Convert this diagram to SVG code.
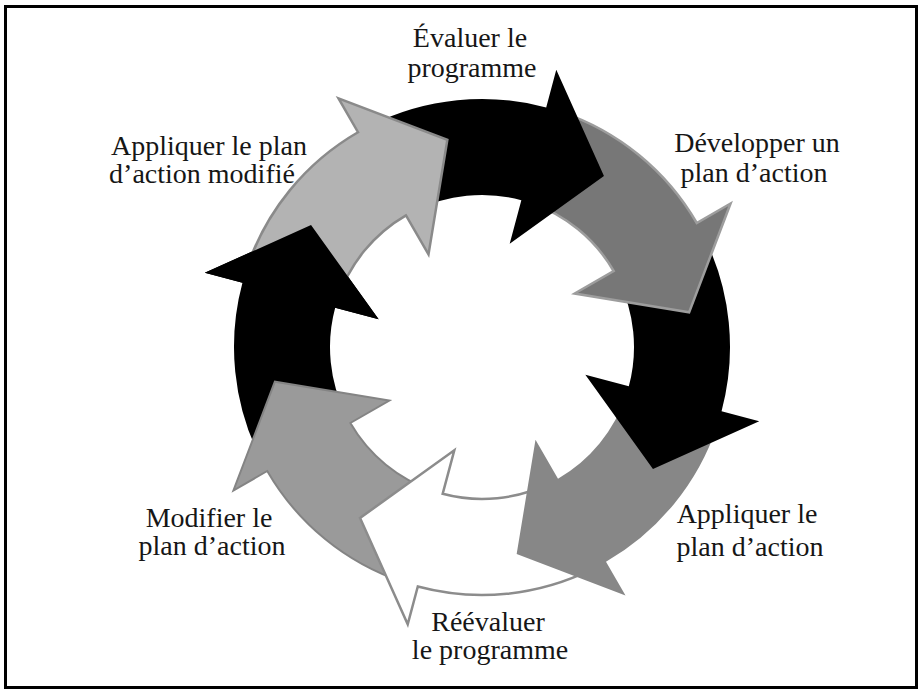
<svg xmlns="http://www.w3.org/2000/svg" width="922" height="694" viewBox="0 0 922 694">
<style>
.lbl{font-family:"Liberation Serif","DejaVu Serif",serif;font-size:28px;fill:#161616;text-anchor:middle}
.blk{fill:#000}
.g0{fill:#b3b3b3;stroke:#8a8a8a;stroke-width:2.5;stroke-linejoin:miter}
.g2{fill:#777;stroke:#9d9d9d;stroke-width:2.5;stroke-linejoin:miter}
.g4{fill:#878787}
.g5{fill:#fff;stroke:#8c8c8c;stroke-width:2.5;stroke-linejoin:miter}
.g6{fill:#9a9a9a;stroke:#848484;stroke-width:2;stroke-linejoin:miter}
</style>
<rect x="0" y="0" width="922" height="694" fill="#fff"/>
<rect x="5.5" y="6.5" width="911" height="681" fill="none" stroke="#000" stroke-width="3"/>
<g id="connectors">
<path id="arrow-left-black" class="blk" d="M260.06,457.66 A248,248 0 0 1 242.45,282.81 L204.78,272.72 L311.03,225.05 L378.65,319.31 L335.18,307.66 A152,152 0 0 0 345.97,414.82 Z"/>
<path id="arrow-left-gray" class="g6" d="M403.31,582.18 A248,248 0 0 1 267.23,471 L233.45,490.5 L274.88,381.66 L389.34,400.5 L350.36,423 A152,152 0 0 0 433.77,491.14 Z"/>
<path id="arrow-bottom-white" class="g5" d="M592.66,568.94 A248,248 0 0 1 417.81,586.55 L407.72,624.22 L360.05,517.97 L454.31,450.35 L442.66,493.82 A152,152 0 0 0 549.82,483.03 Z"/>
<path id="arrow-bottom-right-gray" class="g4" d="M717.18,425.69 A248,248 0 0 1 606,561.77 L625.5,595.55 L516.66,554.12 L535.5,439.66 L558,478.64 A152,152 0 0 0 626.14,395.23 Z"/>
<path id="arrow-right-black" class="blk" d="M703.94,236.34 A248,248 0 0 1 721.55,411.19 L759.22,421.28 L652.97,468.95 L585.35,374.69 L628.82,386.34 A152,152 0 0 0 618.03,279.18 Z"/>
<path id="arrow-right-top-gray" class="g2" d="M560.69,111.82 A248,248 0 0 1 696.77,223 L730.55,203.5 L689.12,312.34 L574.66,293.5 L613.64,271 A152,152 0 0 0 530.23,202.86 Z"/>
<path id="arrow-top-black" class="blk" d="M371.34,125.06 A248,248 0 0 1 546.19,107.45 L556.28,69.78 L603.95,176.03 L509.69,243.65 L521.34,200.18 A152,152 0 0 0 414.18,210.97 Z"/>
<path id="arrow-top-left-lightgray" class="g0" d="M246.82,268.31 A248,248 0 0 1 358,132.23 L338.5,98.45 L447.34,139.88 L428.5,254.34 L406,215.36 A152,152 0 0 0 337.86,298.77 Z"/>
<path id="arrow-left-black-head" class="blk" d="M242.45,282.81 L204.78,272.72 L311.03,225.05 L378.65,319.31 L335.18,307.66 Z"/>
</g>
<g id="label-evaluer">
<text class="lbl" x="470" y="47">Évaluer le</text>
<text class="lbl" x="472" y="77">programme</text>
</g>
<g id="label-developper">
<text class="lbl" x="757" y="152">Développer un</text>
<text class="lbl" x="754" y="182">plan d’action</text>
</g>
<g id="label-appliquer">
<text class="lbl" x="747" y="523">Appliquer le</text>
<text class="lbl" x="750" y="556">plan d’action</text>
</g>
<g id="label-reevaluer">
<text class="lbl" x="488" y="631">Réévaluer</text>
<text class="lbl" x="490" y="659">le programme</text>
</g>
<g id="label-modifier">
<text class="lbl" x="209" y="527">Modifier le</text>
<text class="lbl" x="212" y="555">plan d’action</text>
</g>
<g id="label-appliquer-modifie">
<text class="lbl" x="209" y="155">Appliquer le plan</text>
<text class="lbl" x="202" y="183">d’action modifié</text>
</g>
</svg>
